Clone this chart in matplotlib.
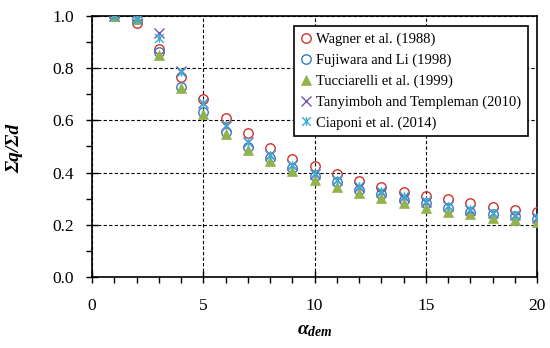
import matplotlib
matplotlib.use("Agg")
import matplotlib.pyplot as plt
from matplotlib.path import Path
from matplotlib.ticker import MultipleLocator, FormatStrFormatter

plt.rcParams['font.family'] = ['Liberation Serif', 'DejaVu Serif']
plt.rcParams['mathtext.fontset'] = 'custom'
plt.rcParams['mathtext.it'] = 'Liberation Serif:italic:bold'
plt.rcParams['mathtext.rm'] = 'Liberation Serif:bold'

alpha_dem = [1, 2, 3, 4, 5, 6, 7, 8, 9, 10, 11, 12, 13, 14, 15, 16, 17, 18, 19, 20]
wagner = [1.0, 0.975, 0.872, 0.765, 0.683, 0.610, 0.550, 0.496, 0.452, 0.425, 0.395, 0.369, 0.346, 0.324, 0.311, 0.298, 0.282, 0.270, 0.257, 0.248]
fujiwara = [1.0, 0.988, 0.862, 0.729, 0.632, 0.557, 0.499, 0.455, 0.416, 0.387, 0.365, 0.333, 0.317, 0.295, 0.282, 0.263, 0.250, 0.240, 0.232, 0.222]
tucciarelli = [1.0, 0.99, 0.850, 0.723, 0.623, 0.549, 0.487, 0.444, 0.407, 0.372, 0.346, 0.320, 0.301, 0.282, 0.263, 0.250, 0.241, 0.225, 0.218, 0.212]
tanyimboh = [1.0, 0.99, 0.934, 0.790, 0.665, 0.578, 0.516, 0.466, 0.428, 0.396, 0.371, 0.345, 0.326, 0.307, 0.288, 0.271, 0.258, 0.245, 0.237, 0.226]
ciaponi = [1.0, 0.99, 0.915, 0.787, 0.668, 0.584, 0.519, 0.468, 0.430, 0.398, 0.373, 0.347, 0.328, 0.309, 0.290, 0.273, 0.260, 0.247, 0.239, 0.228]

labels = ["Wagner et al. (1988)", "Fujiwara and Li (1998)", "Tucciarelli et al. (1999)",
          "Tanyimboh and Templeman (2010)", "Ciaponi et al. (2014)"]

star = Path([(-1, -1), (1, 1), (-1, 1), (1, -1), (0, -1), (0, 1)],
            [Path.MOVETO, Path.LINETO, Path.MOVETO, Path.LINETO, Path.MOVETO, Path.LINETO])

fig = plt.figure(figsize=(5.5, 3.48), dpi=100)
ax = fig.add_axes([92/550, 1-277/348, 445/550, 261/348])

ax.plot(alpha_dem, wagner, ls='none', marker='o', ms=6.8, mfc='none', mec='#d0312d', mew=1.0, label=labels[0], zorder=3)
ax.plot(alpha_dem, fujiwara, ls='none', marker='o', ms=6.8, mfc='none', mec='#3b78c4', mew=1.0, label=labels[1], zorder=3)
ax.plot(alpha_dem, tucciarelli, ls='none', marker='^', ms=6.8, mfc='#92b24c', mec='#92b24c', mew=0.5, label=labels[2], zorder=3)
ax.plot(alpha_dem, tanyimboh, ls='none', marker='x', ms=6.8, mec='#7b52a8', mew=1.0, label=labels[3], zorder=3)
ax.plot(alpha_dem, ciaponi, ls='none', marker=star, ms=6.2, mec='#3aaed0', mfc='none', mew=1.0, label=labels[4], zorder=3)

ax.set_xlim(0, 20)
ax.set_ylim(0, 1.0)
ax.xaxis.set_major_locator(MultipleLocator(5))
ax.xaxis.set_minor_locator(MultipleLocator(1))
ax.yaxis.set_major_locator(MultipleLocator(0.2))
ax.yaxis.set_minor_locator(MultipleLocator(0.1))
ax.yaxis.set_major_formatter(FormatStrFormatter('%.1f'))

ax.grid(True, which='major', color='black', ls=(0, (3, 2)), lw=0.8)
ax.tick_params(which='major', direction='inout', length=8, width=1, labelsize=12.5)
ax.tick_params(which='minor', direction='out', length=4, width=1)
ax.tick_params(axis='y', which='major', pad=9)
ax.tick_params(axis='x', which='major', pad=11)
for s in ax.spines.values():
    s.set_linewidth(1.2)

ax.set_xlabel(r'$\alpha_{dem}$', fontsize=14)
ax.xaxis.set_label_coords(0.5, (277 - 322) / 261)
ax.set_ylabel('Σq/Σd', fontsize=14, fontweight='bold', fontstyle='italic')
ax.yaxis.set_label_coords((23 - 92) / 445, 0.494)

leg = ax.legend(loc='upper right', bbox_to_anchor=(0.98, 0.96), fontsize=10.5,
                frameon=True, fancybox=False, edgecolor='black', framealpha=1,
                handlelength=0.8, handletextpad=0.3, borderpad=0.45, labelspacing=0.5,
                borderaxespad=0)
leg.get_frame().set_linewidth(1.2)

fig.savefig('out.png', dpi=100)
